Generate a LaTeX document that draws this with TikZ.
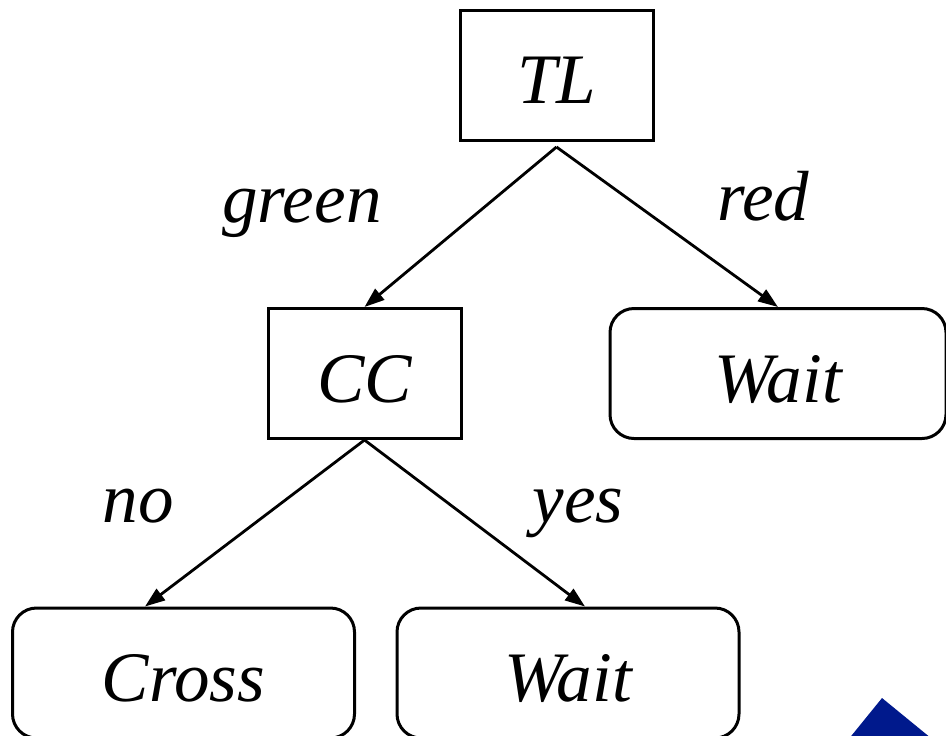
\documentclass[tikz,border=0pt]{standalone}
\usepackage{fontspec}
\setmainfont{Liberation Serif}
\usetikzlibrary{arrows.meta}

\begin{document}
\begin{tikzpicture}[x=0.5pt,y=0.5pt,yscale=-1,xscale=1,
		treebox/.style={draw,line width=1.5pt,inner sep=0pt,text height=28.5pt,text depth=0pt,minimum height=65pt},
		leafbox/.style={treebox,rounded corners=12pt},
		branch/.style={line width=1.4pt,-{Triangle[length=10pt,width=7pt]}},
		lbl/.style={anchor=base,inner sep=0pt},
		font=\fontsize{35.5}{40}\selectfont\itshape]
		\useasboundingbox (0,0) rectangle (946,735);
		\clip (0,0) rectangle (946,735);
		\node [treebox,minimum width=96.5pt] (tl) at (556.5,75) {TL};
		\node [treebox,minimum width=96.5pt] (cc) at (364.5,373.5) {CC};
		\node [leafbox,minimum width=168pt] (waitr) at (778,373.5) {Wait};
		\node [leafbox,minimum width=171pt] (cross) at (183.5,673) {Cross};
		\node [leafbox,minimum width=171pt] (waitl) at (568,673) {Wait};
		\coordinate (tlfoot) at (556.5,147);
		\draw [branch] (tlfoot) -- (cc.north);
		\draw [branch] (tlfoot) -- (waitr.north);
		\draw [branch] (cc.south) -- ([xshift=-19.25pt]cross.north);
		\draw [branch] (cc.south) -- ([xshift=8.5pt]waitl.north);
		\node [lbl] (green) at (302,222) {green};
		\node [lbl] (red) at (763,220) {red};
		\node [lbl] (no) at (138,522) {no};
		\node [lbl] (yes) at (578,522) {yes};
		% corner mark
		\fill [fill={rgb, 255:red, 0; green, 25; blue, 140 }] (882,698) -- (845.5,743) -- (937,743) -- cycle;
\end{tikzpicture}
\end{document}
